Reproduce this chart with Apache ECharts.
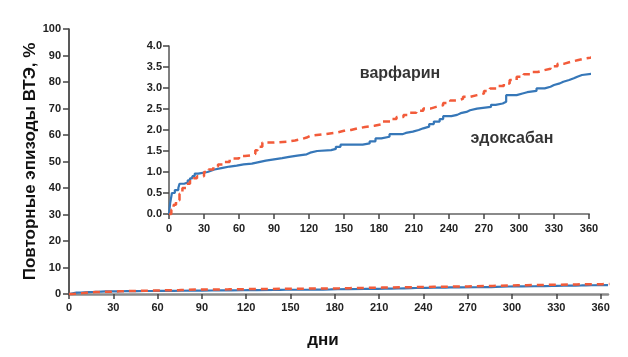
<!DOCTYPE html>
<html>
<head>
<meta charset="utf-8">
<script src="https://cdn.jsdelivr.net/npm/echarts@6/dist/echarts.min.js"></script>
<style>html,body{margin:0;padding:0;background:#fff;}#c{width:628px;height:357px;}</style>
</head>
<body>
<div id="c"></div>
<script>
// ---- data ----
const yTitle = 'Повторные эпизоды ВТЭ, %';
const xTitle = 'дни';
const seriesNames = ['эдоксабан', 'варфарин'];
const xTicks = [0, 30, 60, 90, 120, 150, 180, 210, 240, 270, 300, 330, 360];
const mainYTicks = [0, 10, 20, 30, 40, 50, 60, 70, 80, 90, 100];
const insetYTicks = [0, 0.5, 1, 1.5, 2, 2.5, 3, 3.5, 4];

const edoxDays = [0, 1, 2.5, 5, 8, 9, 13, 16, 18, 20, 22, 25, 33, 36, 39, 46, 52, 58, 64, 71, 76, 83, 90, 97, 103, 110, 118, 121, 127, 139, 143, 147, 166, 172, 177, 182, 189, 200, 203, 209, 214, 218, 223, 227, 232, 235, 242, 247, 250, 255, 258, 264, 276, 280, 286, 289, 298, 303, 307, 315, 322, 327, 330, 335, 338, 343, 347, 350, 354, 365];
const edoxValues = [0, 0.26, 0.5, 0.57, 0.62, 0.72, 0.75, 0.8, 0.85, 0.9, 0.96, 1.0, 1.03, 1.06, 1.1, 1.13, 1.15, 1.18, 1.2, 1.23, 1.27, 1.3, 1.33, 1.36, 1.39, 1.42, 1.46, 1.5, 1.52, 1.55, 1.6, 1.65, 1.68, 1.73, 1.8, 1.84, 1.9, 1.93, 1.96, 2.0, 2.04, 2.08, 2.14, 2.2, 2.26, 2.33, 2.36, 2.4, 2.43, 2.47, 2.51, 2.55, 2.6, 2.63, 2.67, 2.83, 2.87, 2.9, 2.93, 2.99, 3.03, 3.07, 3.11, 3.15, 3.19, 3.23, 3.27, 3.31, 3.35, 3.35];

const warfDays = [0, 2, 4, 6, 9, 11.5, 15, 18, 21, 24, 30, 34, 38, 42, 47, 52, 60, 65, 71, 74, 76, 80, 90, 101, 108, 113, 118, 121, 133, 144, 150, 156, 162, 168, 176, 183, 190, 195, 201, 206, 212, 218, 224, 229, 235, 241, 247, 252, 258, 264, 270, 275, 281, 287, 292, 298, 304, 310, 316, 321, 327, 333, 339, 344, 350, 356, 361, 366];
const warfValues = [0, 0.1, 0.22, 0.33, 0.48, 0.62, 0.72, 0.78, 0.85, 0.9, 1.0, 1.06, 1.13, 1.18, 1.24, 1.32, 1.38, 1.4, 1.43, 1.52, 1.6, 1.7, 1.72, 1.75, 1.78, 1.82, 1.86, 1.9, 1.94, 1.98, 2.0, 2.04, 2.07, 2.1, 2.14, 2.2, 2.26, 2.31, 2.36, 2.41, 2.46, 2.51, 2.55, 2.59, 2.64, 2.7, 2.74, 2.79, 2.83, 2.87, 2.93, 2.99, 3.05, 3.11, 3.19, 3.27, 3.33, 3.38, 3.42, 3.46, 3.52, 3.58, 3.62, 3.66, 3.7, 3.72, 3.76, 3.78];

// annotation text placed in inset data space
const annotations = [
  { text: 'варфарин', day: 198, value: 3.35 },
  { text: 'эдоксабан', day: 294, value: 1.79 }
];

// ---- chart ----
const zip = (a, b) => a.map((d, i) => [d, b[i]]);
const BLUE = '#3677b8', ORANGE = '#f25b3a';
const labelFont = { fontFamily: 'Liberation Sans, Arial, sans-serif', fontWeight: 'bold', fontSize: 11, color: '#222' };

const chart = echarts.init(document.getElementById('c'), null, { renderer: 'canvas' });

function lineSeries(name, data, color, dashed, axisIdx, z) {
  return {
    name: name, type: 'line', step: 'end', data: data,
    xAxisIndex: axisIdx, yAxisIndex: axisIdx,
    symbol: 'none', clip: false, z: z,
    lineStyle: { color: color, width: dashed ? 2.5 : 2.2, type: dashed ? [7, 5] : 'solid' },
    animation: false
  };
}

const option = {
  animation: false,
  backgroundColor: '#fff',
  grid: [
    { left: 69, right: 20, top: 29, bottom: 63 },
    { left: 169, right: 39, top: 46, bottom: 143 }
  ],
  xAxis: [
    {
      gridIndex: 0, type: 'value', min: 0, max: 365,
      name: xTitle, nameLocation: 'middle', nameGap: 38,
      nameTextStyle: { fontFamily: 'Liberation Sans, Arial, sans-serif', fontWeight: 'bold', fontSize: 17, color: '#111', padding: [0, 31, 0, 0] },
      axisLine: { lineStyle: { color: '#8a8a8a', width: 2.5 } },
      axisTick: { customValues: xTicks, length: 5, lineStyle: { color: '#444', width: 1.5 } },
      axisLabel: Object.assign({ customValues: xTicks, margin: 8 }, labelFont),
      splitLine: { show: false }
    },
    {
      gridIndex: 1, type: 'value', min: 0, max: 360,
      axisLine: { lineStyle: { color: '#8a8a8a', width: 2 } },
      axisTick: { customValues: xTicks, length: 5, lineStyle: { color: '#444', width: 1.5 } },
      axisLabel: Object.assign({ customValues: xTicks, margin: 9 }, labelFont),
      splitLine: { show: false }
    }
  ],
  yAxis: [
    {
      gridIndex: 0, type: 'value', min: 0, max: 100,
      name: yTitle, nameLocation: 'middle', nameGap: 30, nameMoveOverlap: false,
      nameTextStyle: { fontFamily: 'Liberation Sans, Arial, sans-serif', fontWeight: 'bold', fontSize: 17, color: '#111' },
      axisLine: { show: true, lineStyle: { color: '#222', width: 1.5 } },
      axisTick: { show: true, customValues: mainYTicks, length: 6, lineStyle: { color: '#444', width: 1.5 } },
      axisLabel: Object.assign({ customValues: mainYTicks, margin: 8 }, labelFont),
      splitLine: { show: false }
    },
    {
      gridIndex: 1, type: 'value', min: 0, max: 4,
      axisLine: { show: true, lineStyle: { color: '#555', width: 1.5 } },
      axisTick: { show: true, customValues: insetYTicks, length: 6, lineStyle: { color: '#444', width: 1.5 } },
      axisLabel: Object.assign({ customValues: insetYTicks, margin: 7, formatter: v => v.toFixed(1) }, labelFont),
      splitLine: { show: false }
    }
  ],
  series: [
    lineSeries(seriesNames[0], zip(edoxDays, edoxValues), BLUE, false, 0, 2),
    lineSeries(seriesNames[1], zip(warfDays, warfValues), ORANGE, true, 0, 3),
    lineSeries(seriesNames[0], zip(edoxDays, edoxValues), BLUE, false, 1, 2),
    lineSeries(seriesNames[1], zip(warfDays, warfValues), ORANGE, true, 1, 3),
    {
      type: 'scatter', xAxisIndex: 1, yAxisIndex: 1, symbolSize: 0, silent: true,
      data: annotations.map(a => ({ value: [a.day, a.value], name: a.text })),
      label: {
        show: true, position: 'inside', formatter: p => p.name,
        fontFamily: 'Liberation Sans, Arial, sans-serif', fontWeight: 'bold', fontSize: 16, color: '#000'
      },
      animation: false
    }
  ]
};
chart.setOption(option);
</script>
</body>
</html>
